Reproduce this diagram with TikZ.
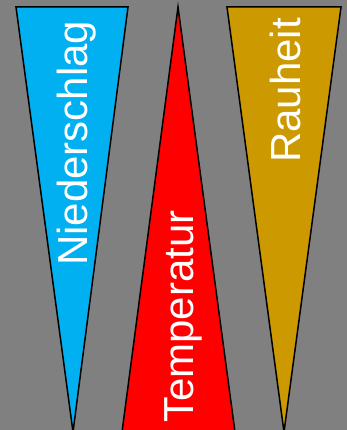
\documentclass[tikz,border=0pt]{standalone}
\usepackage{fontspec}
\setmainfont{Liberation Sans}
\definecolor{bgGray}{HTML}{808080}
\definecolor{skyBlue}{HTML}{00B0F0}
\definecolor{hotRed}{HTML}{FF0000}
\definecolor{goldOchre}{HTML}{CC9900}
\tikzset{
  wedge/.style={draw=black, line width=1.5pt, line join=miter},
  wedgelabel/.style={rotate=90, anchor=base west, inner sep=0pt, text=white,
    font=\fontsize{42}{50}\selectfont}
}
\begin{document}
\begin{tikzpicture}[x=1pt,y=-1pt]
\useasboundingbox (0,0) rectangle (347,430);
\fill[bgGray] (0,0) rectangle (347,430);
\begin{scope}
\clip (0,0) rectangle (347,430);
\coordinate (b1) at (16,7);
\coordinate (b2) at (128,7);
\coordinate (b3) at (73,432);
\coordinate (r1) at (178,7);
\coordinate (r2) at (122,432);
\coordinate (r3) at (235,432);
\coordinate (g1) at (227,7);
\coordinate (g2) at (341,7);
\coordinate (g3) at (284,432);
\filldraw[wedge, fill=skyBlue] (b1) -- (b2) -- (b3) -- cycle;
\filldraw[wedge, fill=hotRed] (r1) -- (r3) -- (r2) -- cycle;
\filldraw[wedge, fill=goldOchre] (g1) -- (g2) -- (g3) -- cycle;
\end{scope}
\node[wedgelabel] (tn) at (87,266) {Niederschlag};
\node[wedgelabel] (tt) at (193,423) {Temperatur};
\node[wedgelabel] (tr) at (300,163) {Rauheit};
\end{tikzpicture}
\end{document}
